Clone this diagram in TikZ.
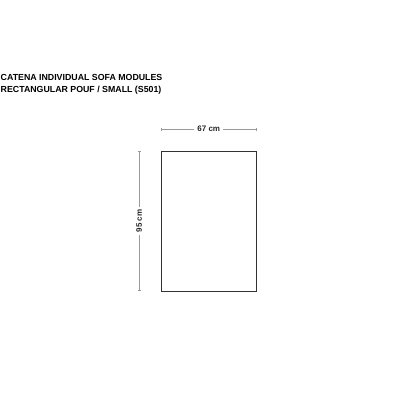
\documentclass[tikz,border=0pt]{standalone}
\usepackage{fontspec}
\setmainfont{Liberation Sans}
\usetikzlibrary{arrows.meta,positioning}

\tikzset{
  titletext/.style={anchor=base west, inner sep=0pt, font=\bfseries\fontsize{8.8}{10}\selectfont},
  dimline/.style={gray!80, line width=0.6pt, {Bar[width=3pt]}-{Bar[width=3pt]}},
  dimtext/.style={fill=white, text=black!85, inner xsep=3pt, inner ysep=1pt, font=\bfseries\fontsize{8}{9}\selectfont},
}

\begin{document}
\begin{tikzpicture}[x=1pt,y=-1pt]
\useasboundingbox (0,0) rectangle (416,416);

% title
\node [titletext] (title1) at (0.5,80) {CATENA INDIVIDUAL SOFA MODULES};
\node [titletext] (title2) at (0.5,92) {RECTANGULAR POUF / SMALL (S501)};

% the pouf, seen from above
\draw [black!80, line width=0.9pt] (161,151) rectangle (256,291);

% width
\coordinate (wl) at (161,129);
\coordinate (wr) at (256.5,129);
\draw [dimline] (wl) -- node [dimtext] (wlabel) {67 cm} (wr);

% depth
\coordinate (dt) at (139,151);
\coordinate (db) at (139,291);
\draw [dimline] (db) -- node [dimtext, rotate=90] (dlabel) {95 cm} (dt);
\end{tikzpicture}
\end{document}
